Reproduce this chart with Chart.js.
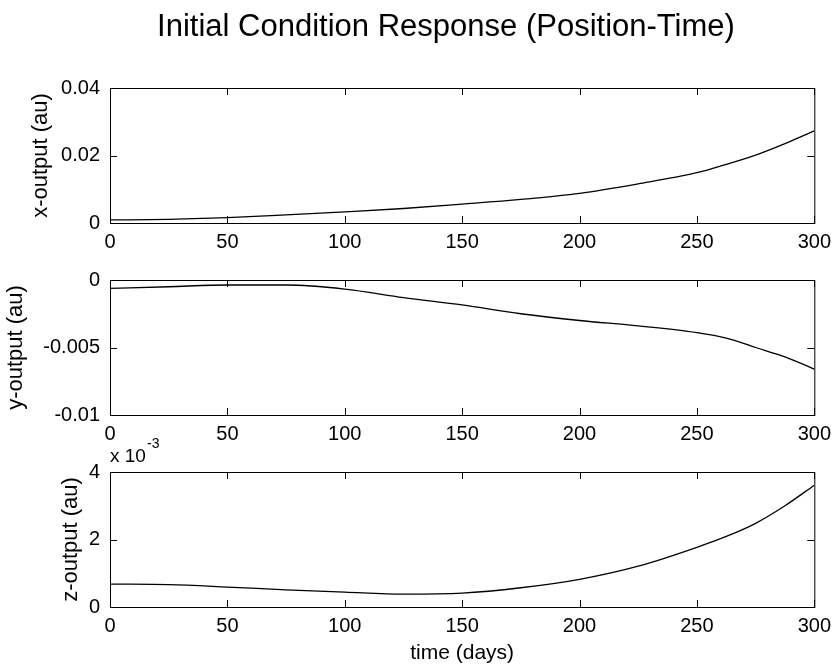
<!DOCTYPE html>
<html>
<head>
<meta charset="utf-8">
<title>Initial Condition Response (Position-Time)</title>
<script src="https://cdn.jsdelivr.net/npm/chart.js@4.4.0/dist/chart.umd.min.js"></script>
<style>
    body { margin: 0; background: #ffffff; }
    #wrap { position: relative; width: 838px; height: 670px; }
    canvas { position: absolute; left: 0; }
</style>
</head>
<body>
<div id="wrap">
    <canvas id="x_plot" width="838" height="250" style="top:0px;width:838px;height:250px"></canvas>
    <canvas id="y_plot" width="838" height="195" style="top:250px;width:838px;height:195px"></canvas>
    <canvas id="z_plot" width="838" height="245" style="top:425px;width:838px;height:245px"></canvas>
</div>
<script>
// values (time in days, outputs in au)
var days     = [0, 25, 50, 75, 100, 125, 150, 175, 200, 225, 250, 262.5, 275, 287.5, 300];
var x_output = [0.0009, 0.0011, 0.0016, 0.0024, 0.0033, 0.0043, 0.0056, 0.0070, 0.0088, 0.0116, 0.0149, 0.0174, 0.0201, 0.0235, 0.0273];
var y_output = [-0.00062, -0.0005, -0.00037, -0.00037, -0.00067, -0.0013, -0.00185, -0.0025, -0.0030, -0.0034, -0.0039, -0.0043, -0.0050, -0.0057, -0.0066];
var z_output = [0.00068, 0.00066, 0.00059, 0.00051, 0.00044, 0.00038, 0.00041, 0.00057, 0.00082, 0.00121, 0.00177, 0.00209, 0.00248, 0.00300, 0.00361];

var day_ticks = [0, 300, 50];
var font_name = "'Liberation Sans', Arial, Helvetica, sans-serif";

Chart.defaults.font.family = font_name;
Chart.defaults.color = '#000000';

// matlab style box with inward ticks on all four sides
var boxTicks = {
    id: 'boxTicks',
    afterDatasetsDraw: function(chart){
        var ctx = chart.ctx;
        var a = chart.chartArea;
        var xs = chart.scales.x;
        var ys = chart.scales.y;
        ctx.save();
        ctx.strokeStyle = '#000000';
        ctx.lineWidth = 1;
        ctx.beginPath();
        xs.ticks.forEach(function(t){
            var p = Math.round(xs.getPixelForValue(t.value)) + 0.5;
            ctx.moveTo(p, a.bottom); ctx.lineTo(p, a.bottom - 7);
            ctx.moveTo(p, a.top); ctx.lineTo(p, a.top + 7);
        });
        ys.ticks.forEach(function(t){
            var p = Math.round(ys.getPixelForValue(t.value)) + 0.5;
            ctx.moveTo(a.left, p); ctx.lineTo(a.left + 7, p);
            ctx.moveTo(a.right, p); ctx.lineTo(a.right - 7, p);
        });
        ctx.stroke();
        ctx.strokeRect(a.left + 0.5, a.top + 0.5, a.right - a.left, a.bottom - a.top);
        ctx.restore();
    }
};

// figure title, drawn on the first panel
var figTitle = {
    id: 'figTitle',
    afterDraw: function(chart){
        if(chart.canvas.id != 'x_plot') return;
        var ctx = chart.ctx;
        ctx.save();
        ctx.fillStyle = '#000000';
        ctx.font = '31px ' + font_name;
        ctx.textAlign = 'center';
        ctx.textBaseline = 'alphabetic';
        ctx.fillText('Initial Condition Response (Position-Time)', 446, 36);
        ctx.restore();
    }
};

// exponent label above the z panel
var expLabel = {
    id: 'expLabel',
    afterDraw: function(chart){
        if(chart.canvas.id != 'z_plot') return;
        var ctx = chart.ctx;
        ctx.save();
        ctx.fillStyle = '#000000';
        ctx.textAlign = 'left';
        ctx.textBaseline = 'alphabetic';
        ctx.font = '19px ' + font_name;
        ctx.fillText('x 10', 110, 37);
        ctx.font = '14px ' + font_name;
        ctx.fillText('-3', 147, 23);
        ctx.restore();
    }
};

function plainTick(value){
    return String(+value.toFixed(6));
}

function makePanel(id, values, opts){
    var points = days.map(function(d, i){ return {x: d, y: values[i]}; });
    return new Chart(document.getElementById(id).getContext('2d'), {
        type: 'line',
        data: {
            datasets: [{
                data: points,
                borderColor: '#000000',
                borderWidth: 1.3,
                pointRadius: 0,
                cubicInterpolationMode: 'monotone',
                fill: false
            }]
        },
        options: {
            responsive: false,
            animation: false,
            events: [],
            layout: { padding: { top: opts.top, right: 18, left: 0, bottom: 0 } },
            plugins: {
                legend: { display: false },
                tooltip: { enabled: false }
            },
            scales: {
                x: {
                    type: 'linear',
                    min: day_ticks[0],
                    max: day_ticks[1],
                    grid: { display: false, drawTicks: false },
                    border: { display: false },
                    ticks: {
                        stepSize: day_ticks[2],
                        padding: 7,
                        maxRotation: 0,
                        font: { size: 20 },
                        color: '#000000'
                    },
                    title: {
                        display: !!opts.xTitle,
                        text: opts.xTitle || '',
                        font: { size: 21 },
                        color: '#000000',
                        padding: { top: 0, bottom: 4 }
                    },
                    afterFit: function(scale){ scale.height = opts.xHeight; }
                },
                y: {
                    min: opts.yMin,
                    max: opts.yMax,
                    grid: { display: false, drawTicks: false },
                    border: { display: false },
                    ticks: {
                        stepSize: opts.yStep,
                        padding: 10,
                        font: { size: 20 },
                        color: '#000000',
                        callback: opts.tickFmt || plainTick
                    },
                    title: {
                        display: true,
                        text: opts.yTitle,
                        font: { size: 22 },
                        color: '#000000',
                        padding: { top: opts.yTitlePad, bottom: 0 }
                    },
                    afterFit: function(scale){ scale.width = 110; }
                }
            }
        },
        plugins: [boxTicks, figTitle, expLabel]
    });
}

makePanel('x_plot', x_output, {
    top: 88, xHeight: 27, yMin: 0, yMax: 0.04, yStep: 0.02,
    yTitle: 'x-output (au)', yTitlePad: 28
});
makePanel('y_plot', y_output, {
    top: 30, xHeight: 30, yMin: -0.01, yMax: 0, yStep: 0.005,
    yTitle: 'y-output (au)', yTitlePad: 3
});
makePanel('z_plot', z_output, {
    top: 47, xHeight: 63, yMin: 0, yMax: 0.004, yStep: 0.002,
    yTitle: 'z-output (au)', yTitlePad: 58,
    xTitle: 'time (days)',
    tickFmt: function(v){ return String(Math.round(v * 1000)); }
});
</script>
</body>
</html>
